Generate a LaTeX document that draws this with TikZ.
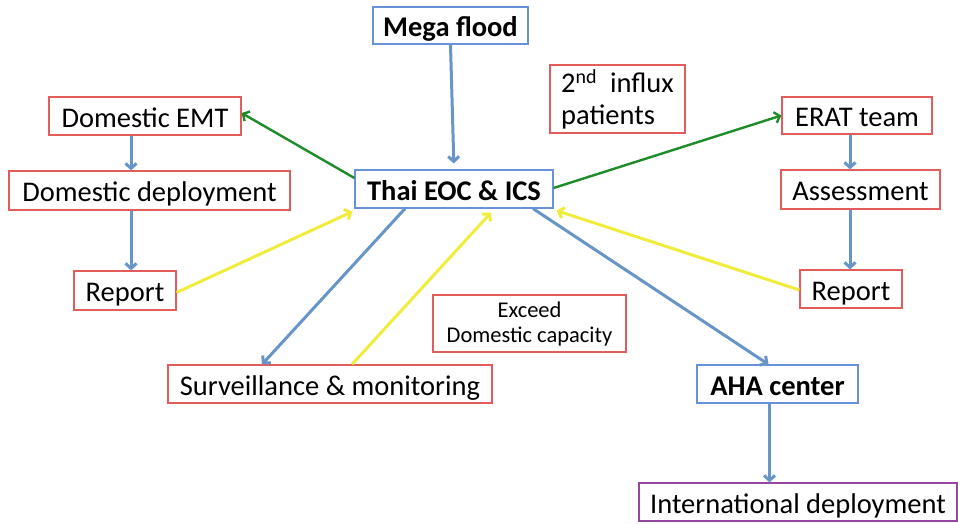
\documentclass[tikz,border=0pt]{standalone}
\usepackage{fontspec}
\setmainfont{Carlito}
\usetikzlibrary{arrows.meta,calc}
\definecolor{flowblue}{RGB}{104,149,200}
\definecolor{flowgreen}{RGB}{30,140,40}
\definecolor{flowyellow}{RGB}{240,236,60}
\definecolor{boxred}{RGB}{226,92,92}
\definecolor{boxblue}{RGB}{104,146,216}
\definecolor{boxpurple}{RGB}{150,70,160}
\tikzset{
  box/.style={draw, line width=1.2pt, rectangle, inner sep=0pt, align=center,
    font=\fontsize{28.5}{33}\selectfont},
  oneline/.style={text height=22.4pt, text depth=0pt},
  redbox/.style={box, draw=boxred},
  bluebox/.style={box, oneline, draw=boxblue, font=\fontsize{28.5}{33}\selectfont\bfseries},
  purplebox/.style={box, oneline, draw=boxpurple},
  tip/.style={-{Straight Barb[length=5pt,width=11pt]}},
  bluearrow/.style={tip, draw=flowblue, line width=3pt},
  greenarrow/.style={tip, draw=flowgreen, line width=2.4pt},
  yellowarrow/.style={tip, draw=flowyellow, line width=3pt},
}
\begin{document}
\begin{tikzpicture}[x=1pt,y=-1pt]
\useasboundingbox (0,0) rectangle (958,523);

% central command and its trigger
\node[bluebox, minimum width=155, minimum height=37] (mega) at (450.5,25.5) {Mega flood};
\node[bluebox, minimum width=198, minimum height=38] (eoc) at (454,189) {Thai EOC \& ICS};
\node[redbox, minimum width=135, minimum height=68, align=left] (influx) at (617.5,99)
  {2\textsuperscript{nd}\ \ influx\\[-1pt]patients};

% domestic branch
\node[redbox, oneline, minimum width=192, minimum height=38] (demt) at (145,116) {Domestic EMT};
\node[redbox, oneline, minimum width=281, minimum height=39] (ddep) at (149.5,190.5) {Domestic deployment};
\node[redbox, oneline, minimum width=102, minimum height=39] (repL) at (125,290.5) {Report};

% assessment branch
\node[redbox, oneline, minimum width=150, minimum height=37] (erat) at (857,115.5) {ERAT team};
\node[redbox, oneline, minimum width=159, minimum height=39] (assess) at (860.5,189.5) {Assessment};
\node[redbox, oneline, minimum width=102, minimum height=38] (repR) at (851,289) {Report};

% lower row
\node[redbox, minimum width=193, minimum height=57,
  font=\fontsize{22.5}{25}\selectfont] (exceed) at (529.5,323.5) {Exceed\\Domestic capacity};
\node[redbox, oneline, minimum width=324, minimum height=38] (surv) at (330,384) {Surveillance \& monitoring};
\node[bluebox, minimum width=161, minimum height=38] (aha) at (777.5,384) {AHA center};
\node[purplebox, minimum width=318, minimum height=38] (intl) at (798,502) {International deployment};

% connectors
\draw[bluearrow, shorten >=6pt] (mega.south) -- (eoc.north);
\draw[greenarrow] ([yshift=11]eoc.west) -- ([yshift=3]demt.east);
\draw[greenarrow] ([yshift=1]eoc.east) -- (erat.west);
\draw[bluearrow] ([xshift=-14]demt.south) -- ([xshift=-14]demt.south |- ddep.north);
\draw[bluearrow] ([xshift=-18.5]ddep.south) -- ([xshift=-18.5]ddep.south |- repL.north);
\draw[yellowarrow] ([yshift=-2]repL.east) -- ([xshift=-2,yshift=-3]eoc.south west);
\draw[bluearrow] ([xshift=-49]eoc.south) -- ([xshift=-68]surv.north);
\draw[yellowarrow] ([xshift=22]surv.north) -- ([xshift=37,yshift=-4]eoc.south);
\draw[bluearrow] ([xshift=79]eoc.south) -- ([xshift=-9]aha.north);
\draw[yellowarrow] ([yshift=-1]repR.west) -- ([xshift=3,yshift=-2]eoc.south east);
\draw[bluearrow] ([xshift=-7]erat.south) -- ([xshift=-7]erat.south |- assess.north);
\draw[bluearrow] ([xshift=-10.5]assess.south) -- ([xshift=-10.5]assess.south |- repR.north);
\draw[bluearrow] ([xshift=-8]aha.south) -- ([xshift=-8]aha.south |- intl.north);
\end{tikzpicture}
\end{document}
